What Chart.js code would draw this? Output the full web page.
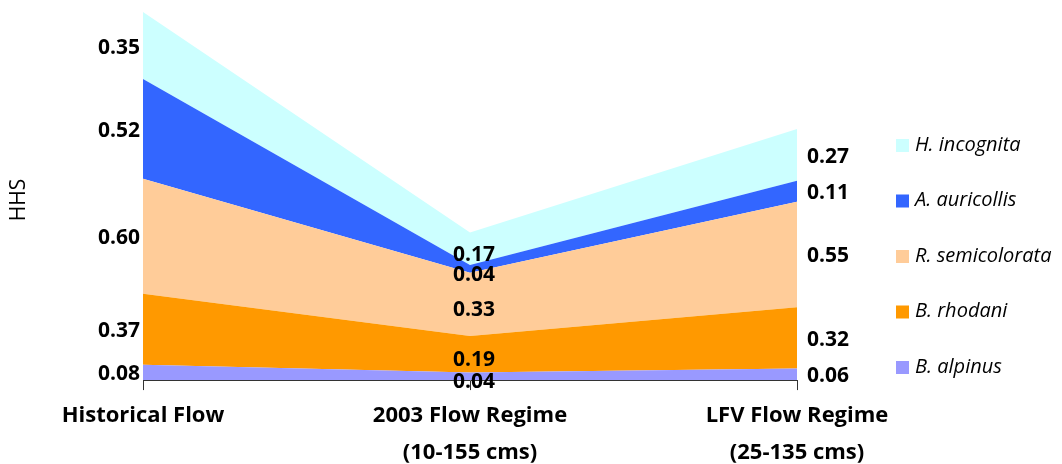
<!DOCTYPE html>
<html>
<head>
<meta charset="utf-8">
<script src="https://cdn.jsdelivr.net/npm/chart.js@4/dist/chart.umd.min.js"></script>
<style>
  html, body { margin: 0; padding: 0; background: #fff; }
  #wrap { position: relative; width: 1062px; height: 464px; }
</style>
</head>
<body>
<div id="wrap"><canvas id="chart"></canvas></div>
<script>
// categories (x axis), each one may wrap on two lines
const categories = [['Historical Flow'], ['2003 Flow Regime', '(10-155 cms)'], ['LFV Flow Regime', '(25-135 cms)']]

// species, bottom to top of the stack
const species = ['B. alpinus', 'B. rhodani', 'R. semicolorata', 'A. auricollis', 'H. incognita']
const colors = ['#9999ff', '#ff9900', '#ffcc99', '#3366ff', '#ccffff']

// HHS values per species for each flow regime
const alpinus = [0.08, 0.04, 0.06]
const rhodani = [0.37, 0.19, 0.32]
const semicolorata = [0.60, 0.33, 0.55]
const auricollis = [0.52, 0.04, 0.11]
const incognita = [0.35, 0.17, 0.27]

const seriesValues = [alpinus, rhodani, semicolorata, auricollis, incognita]

const labelFont = 'bold 21px "Open Sans", sans-serif'

// writes the value of every band next to / inside it
const valueLabels = {
  id: 'valueLabels',
  afterDatasetsDraw(chart) {
    const ctx = chart.ctx
    const x = chart.scales.x
    const y = chart.scales.y
    ctx.save()
    ctx.font = labelFont
    ctx.fillStyle = '#000'
    ctx.textBaseline = 'middle'
    for (let j = 0; j < categories.length; j++) {
      let base = 0
      seriesValues.forEach((vals) => {
        const v = vals[j]
        let mid = (y.getPixelForValue(base) + y.getPixelForValue(base + v)) / 2 + 2
        base += v
        const px = x.getPixelForValue(j)
        let tx = px
        if (j === 0) { ctx.textAlign = 'right'; tx = px - 3 }
        else if (j === categories.length - 1) { ctx.textAlign = 'left'; tx = px + 10 }
        else { ctx.textAlign = 'center'; tx = px + 4; mid += 4 }
        ctx.fillText(v.toFixed(2), tx, mid)
      })
    }
    ctx.restore()
  }
}

// legend on the right (top entry = top of the stack) and the HHS title
const sideBits = {
  id: 'sideBits',
  afterDraw(chart) {
    const ctx = chart.ctx
    ctx.save()
    const top = 145, step = 55.5
    ctx.font = 'italic 20px "Open Sans", sans-serif'
    ctx.textBaseline = 'middle'
    ctx.textAlign = 'left'
    for (let k = 0; k < species.length; k++) {
      const i = species.length - 1 - k
      const yy = top + k * step
      ctx.fillStyle = colors[i]
      ctx.fillRect(896, yy - 6, 13, 13)
      ctx.fillStyle = '#000'
      ctx.fillText(species[i], 915, yy)
    }
    ctx.translate(19, 200)
    ctx.rotate(-Math.PI / 2)
    ctx.textAlign = 'center'
    ctx.font = '21px "Open Sans", sans-serif'
    ctx.fillText('HHS', 0, 0)
    ctx.restore()
  }
}

const datasets = seriesValues.map((vals, i) => ({
  label: species[i],
  data: vals,
  backgroundColor: colors[i],
  borderColor: colors[i],
  borderWidth: 0,
  pointRadius: 0,
  fill: i === 0 ? 'origin' : '-1',
  tension: 0
}))

new Chart(document.getElementById('chart'), {
  type: 'line',
  data: { labels: categories, datasets: datasets },
  options: {
    responsive: true,
    maintainAspectRatio: false,
    animation: false,
    layout: { padding: { left: 143, right: 265, top: 12, bottom: -14 } },
    plugins: {
      legend: { display: false },
      tooltip: { enabled: false }
    },
    scales: {
      x: {
        offset: false,
        grid: { drawOnChartArea: false, drawTicks: true, tickLength: 10, color: '#333' },
        border: { display: true, color: '#333', width: 1 },
        ticks: {
          color: '#000',
          font: { family: '"Open Sans", sans-serif', size: 22, weight: 'bold', lineHeight: 1.68 },
          maxRotation: 0,
          autoSkip: false,
          padding: 7
        }
      },
      y: {
        display: false,
        stacked: true,
        min: 0,
        max: 1.92
      }
    }
  },
  plugins: [valueLabels, sideBits]
})
</script>
</body>
</html>
